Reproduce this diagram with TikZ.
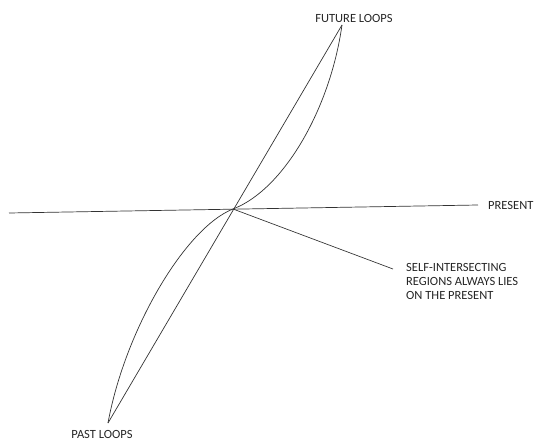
\documentclass[tikz,border=0pt]{standalone}
\usepackage{fontspec}
\setmainfont{Carlito}
\usetikzlibrary{positioning}

\begin{document}
\begin{tikzpicture}[x=1pt, y=-1pt,
    tag/.style={inner sep=0pt, text=black!85, font=\fontsize{12.5}{14}\selectfont},
    wire/.style={draw=black!80, line width=0.7pt}]
    \useasboundingbox (0,0) rectangle (536,441);

    \coordinate (o) at (233,209);
    \coordinate (future) at (342,25);
    \coordinate (past) at (108,423);
    \coordinate (west) at (9,213);
    \coordinate (east) at (478,205);
    \coordinate (tip) at (393,269);

    \node (futuretxt) [tag] at (354,18) {FUTURE LOOPS};
    \node (presenttxt) [tag, anchor=west] at (488,205) {PRESENT};
    \node (selftxt) [tag, anchor=north west, align=left] at (406,263) {SELF-INTERSECTING\\REGIONS ALWAYS LIES\\ON THE PRESENT};
    \node (pasttxt) [tag] at (102,434) {PAST LOOPS};

    \draw [wire] (west) -- (east);
    \draw [wire] (past) -- (future);
    \draw [wire] (o) -- (tip);
    \draw [wire] (o) .. controls (283,190) and (330,110) .. (future);
    \draw [wire] (o) .. controls (185,228) and (125,330) .. (past);
\end{tikzpicture}
\end{document}
